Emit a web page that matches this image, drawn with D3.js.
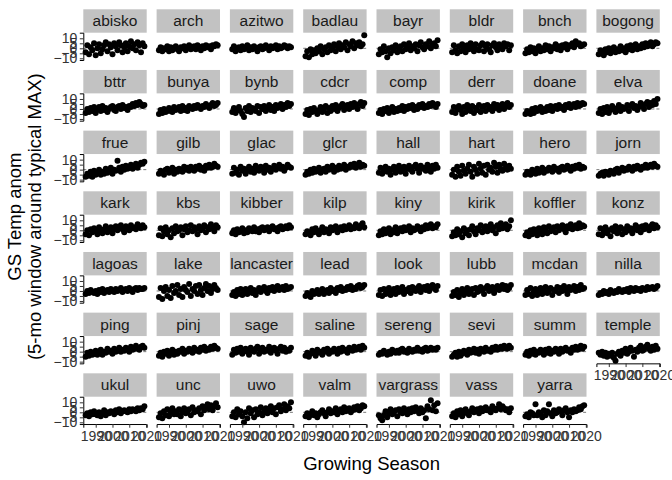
<!DOCTYPE html>
<html><head><meta charset="utf-8">
<script src="https://cdn.jsdelivr.net/npm/d3@7"></script>
<style>body{margin:0;background:#fff}svg{display:block}</style>
</head><body>
<script>
const sites = ["abisko","arch","azitwo","badlau","bayr","bldr","bnch","bogong",
"bttr","bunya","bynb","cdcr","comp","derr","doane","elva",
"frue","gilb","glac","glcr","hall","hart","hero","jorn",
"kark","kbs","kibber","kilp","kiny","kirik","koffler","konz",
"lagoas","lake","lancaster","lead","look","lubb","mcdan","nilla",
"ping","pinj","sage","saline","sereng","sevi","summ","temple",
"ukul","unc","uwo","valm","vargrass","vass","yarra"];
const years = d3.range(1984, 2020);
const xTicks = [1990, 2000, 2010, 2020];
const yTicks = [-10, -5, 0, 5, 10];
const siteValues = [
[-4,3,-6,1,-2,5,-7,0,4,-5,-1,3,6,-3,4,1,-6,5,2,-2,6,3,-4,1,5,-3,2,7,0,4,-2,6,3,-4,5,2],
[-2,1,-3,0,-1,2,-3,1,-2,0,2,-1,-3,1,0,2,-2,1,3,-1,0,2,-1,3,1,-2,2,0,3,1,2,-1,3,2,4,3],
[-1,2,-3,0,1,-2,2,-1,0,3,-2,1,-1,2,0,-3,1,2,-1,0,3,1,-2,2,0,1,3,-1,2,0,1,3,2,0,2,1],
[-8,-3,-9,-1,-6,-2,-5,0,-3,2,-6,-1,1,-4,3,-2,0,4,-3,2,5,-1,3,1,6,-2,4,2,7,0,5,3,6,2,4,13],
[-6,-1,-4,2,-3,-9,0,-5,1,-2,3,-4,0,2,-3,4,-1,1,5,-2,2,0,4,-3,3,6,1,-1,4,2,7,0,3,5,2,8],
[-4,3,-2,-5,2,-3,4,0,-4,3,-1,5,1,-3,4,-1,-2,3,5,-3,2,4,-1,-4,3,5,1,-2,4,2,-1,5,2,4,-2,3],
[-5,-1,-4,1,-3,0,-5,-1,2,-3,0,-2,3,-1,2,-3,1,0,4,-1,2,-2,3,1,4,-1,3,2,5,1,7,4,5,2,3,4],
[-6,-2,-5,-7,-1,-4,0,-5,-2,1,-4,-1,-3,2,-2,0,-4,2,-1,3,-2,1,4,-1,2,0,4,1,5,2,3,6,2,4,6,5],
[-4,0,-3,1,-2,2,-4,0,2,-2,3,-1,1,-3,0,2,3,-1,-2,2,3,0,4,1,2,-1,3,2,5,3,6,4,7,5,3,4],
[-5,-1,-4,0,-3,-2,1,-2,-3,2,-1,0,2,-2,3,-1,1,-2,3,1,0,3,1,4,2,0,3,2,5,3,1,4,6,3,4,6],
[-3,1,-4,-1,2,-2,-5,-8,1,-2,3,-3,1,0,-2,3,-4,2,0,3,-2,1,4,-1,2,-2,4,1,3,5,0,4,2,6,3,5],
[-5,-1,-6,0,-3,1,-2,-5,-1,2,-3,0,3,-4,1,-2,3,0,4,-2,1,3,5,-1,2,4,0,5,2,6,3,0,5,7,3,6],
[-4,-1,-5,0,-2,1,-4,-1,2,-3,0,-2,1,-1,3,-2,2,0,3,1,4,-1,2,0,4,2,5,1,3,2,5,3,6,4,2,5],
[-3,2,-4,0,3,-1,-5,2,-3,4,0,-2,3,-4,1,-1,4,-3,2,3,-2,4,0,2,-2,5,1,4,-1,2,5,0,3,6,2,4],
[-5,-2,-3,-5,0,-4,1,-2,-1,2,-3,0,-2,2,-1,3,-2,1,3,0,4,1,2,-1,4,2,5,1,3,5,2,6,3,4,6,5],
[-4,0,-5,1,-3,2,-4,-1,3,0,-3,1,4,-2,2,0,1,4,-2,3,5,1,3,-1,2,6,3,0,5,7,2,6,4,8,5,10],
[-7,-4,-6,-2,-7,-1,-5,-3,0,-5,-2,-4,1,-3,-1,2,-4,0,-1,9,2,-2,3,0,4,1,2,5,1,3,6,2,5,7,6,8],
[-4,-1,-3,-5,0,1,-3,-1,2,-4,0,-2,1,0,-2,3,0,2,-1,3,1,-1,3,1,4,0,2,-1,4,2,5,2,3,6,4,3],
[-4,2,-3,0,-5,3,-1,1,-4,0,3,-2,1,-3,4,0,-1,3,1,-3,4,0,2,-2,1,4,0,2,5,1,3,-1,2,5,3,2],
[-5,-2,-4,0,-3,1,-2,-1,2,-3,0,1,-2,3,0,1,4,-2,2,0,4,1,2,5,0,3,2,5,3,6,2,4,7,3,5,4],
[-3,2,-4,0,3,-2,1,-5,0,3,-3,1,4,-2,0,3,-4,1,4,0,-2,3,5,1,-3,4,1,2,-1,5,2,-2,4,1,5,2],
[-5,0,-7,3,-2,-6,4,-1,-4,1,5,-2,-7,3,0,-4,6,1,-3,4,-5,5,0,2,-2,7,3,-3,5,1,-1,6,2,0,4,1],
[-5,-2,-3,-5,0,-2,-4,1,-3,-1,2,-3,0,-1,2,0,-2,3,0,1,-2,2,3,0,1,4,1,-1,3,1,4,2,5,1,3,2],
[-6,-4,-3,-6,-2,-3,-5,-1,-2,-4,0,1,-3,0,2,-1,1,0,3,1,-1,3,1,4,2,0,3,2,5,2,3,5,3,6,4,3],
[-4,0,-5,1,-2,2,-1,-4,3,0,-3,1,4,-2,0,3,-3,1,4,0,2,5,1,-2,4,2,0,5,2,3,1,6,3,2,5,3],
[-5,2,-6,-1,3,-4,0,-7,2,-3,4,-1,0,3,-5,1,4,-2,0,5,-1,3,1,-4,4,0,2,5,-2,3,1,6,2,-1,5,3],
[-3,0,-4,1,-2,-1,2,-3,0,-2,2,0,-1,3,-1,1,-2,2,3,0,1,3,-1,2,4,1,2,-1,3,4,1,2,4,2,5,3],
[-4,-1,-3,-5,1,-2,2,-1,-4,0,3,-2,1,0,-3,3,0,1,4,-2,1,3,0,4,1,2,5,1,3,2,6,3,2,5,7,3],
[-5,-1,-4,1,-3,-1,2,-4,0,-2,3,-3,0,2,-1,3,0,1,4,-2,2,0,1,4,2,-1,3,1,5,2,3,6,2,4,3,6],
[-6,-2,-5,1,-4,-1,-7,2,-3,0,-5,1,4,-1,-4,2,0,5,-2,1,4,-1,2,6,0,3,-3,5,1,7,2,3,6,1,4,10],
[-5,-2,-6,0,-4,1,-2,-5,2,-1,-4,3,0,-3,4,-1,1,3,-2,4,0,2,5,1,-2,4,2,6,1,3,5,2,7,3,5,4],
[-4,2,-5,-1,3,-3,0,-6,2,-1,4,-3,0,3,-4,1,-2,4,0,2,-3,1,5,0,3,-2,4,1,5,2,0,4,6,2,5,3],
[-3,0,-2,1,-1,-2,0,-3,1,-1,2,-2,0,1,-1,2,0,-1,2,0,1,3,-1,1,2,0,3,1,-1,2,3,1,3,2,2,3],
[-6,3,-8,0,4,-5,1,-7,5,-2,0,6,-4,2,-6,4,1,-1,7,-5,2,0,5,-3,6,1,-4,3,7,0,5,-2,2,6,3,1],
[-4,-1,-5,1,-3,2,-4,-1,2,-3,0,3,-2,1,-4,0,3,-1,2,4,0,-2,3,1,4,0,2,5,1,3,4,1,5,2,3,4],
[-5,-2,-4,-6,0,-3,-2,1,-3,-1,2,-3,0,1,-2,3,0,1,-2,3,1,4,0,2,1,4,2,5,1,3,2,5,6,3,4,6],
[-4,1,-5,2,-3,-1,3,-4,0,2,-3,3,-1,0,4,-3,1,0,3,-2,4,1,0,3,5,-1,2,4,1,5,0,3,6,3,1,5],
[-5,-1,-4,1,-6,-2,2,-4,-1,3,-3,0,2,-4,3,-1,0,4,1,-3,3,5,0,1,4,-2,2,5,1,3,6,2,5,1,3,6],
[-4,1,-3,3,-5,-1,2,-4,0,3,-3,1,4,-2,0,3,-4,1,0,4,-2,3,0,5,1,-3,4,1,2,5,0,4,1,6,2,3],
[-4,-2,-3,0,-2,-1,-3,1,-1,-2,0,-1,2,0,-1,1,0,2,-1,3,1,0,3,1,2,0,3,2,1,4,2,3,4,2,3,5],
[-5,-1,-4,0,-3,-2,1,-3,-1,2,-3,0,-1,3,0,1,-2,3,0,1,4,0,2,1,4,2,0,5,2,3,6,3,2,5,6,4],
[-4,-1,-5,0,-2,1,-4,-1,2,-3,0,-2,1,0,3,-2,1,0,3,1,-1,4,1,2,0,4,2,5,1,3,2,5,3,6,4,3],
[-3,2,-1,3,0,4,-2,1,3,0,-3,4,1,0,3,5,-2,1,4,0,2,1,5,-1,2,4,1,-2,3,5,1,4,0,2,1,4],
[-4,-1,-5,-2,1,-1,-4,2,-1,0,-3,2,0,3,-2,1,0,3,1,-2,3,0,4,1,2,-1,4,2,1,5,2,3,5,2,6,4],
[-3,-1,-2,1,-1,-3,0,-2,2,0,-1,1,-1,2,3,0,1,-1,3,1,0,2,1,4,1,2,0,3,4,1,2,4,2,3,2,4],
[-5,-3,-1,-5,0,-4,-2,1,-1,-3,2,-1,0,3,-1,2,-2,3,1,0,4,1,2,0,4,2,5,2,3,5,3,6,4,3,6,4],
[-3,0,-4,1,-2,2,-3,0,-1,2,0,-3,2,-1,3,-2,1,0,3,1,-2,3,0,2,4,1,2,-1,4,2,5,2,3,6,3,5],
[-1,-3,0,-4,-1,-5,-2,-4,-1,-6,-9,-2,0,-4,1,-1,3,-2,0,4,1,-5,2,0,4,6,1,2,5,7,3,1,5,2,6,3],
[-3,-1,-4,0,-2,1,-2,-3,0,-4,-1,2,-3,0,-1,1,0,-2,2,0,3,-1,1,2,1,0,3,1,3,2,1,4,2,4,3,6],
[-5,-1,-6,1,-3,3,-4,0,4,-2,1,-2,3,-4,0,4,-1,1,3,-3,5,0,2,1,4,-2,6,2,5,8,3,7,2,6,9,5],
[-4,0,-5,3,-2,1,-4,-10,0,-6,4,-1,2,-5,3,-2,0,5,-3,1,4,-1,2,6,0,4,-2,5,7,1,3,8,2,6,4,10],
[-4,-1,-5,-2,1,-3,-1,-5,-2,0,2,-1,-4,0,3,-1,1,0,4,-2,1,3,0,5,1,2,4,0,2,5,3,6,2,4,7,6],
[-3,-6,-8,-3,1,-5,-1,3,-2,0,2,-4,3,0,-1,4,1,-2,3,0,4,1,5,2,-1,4,0,2,-6,6,3,12,2,7,1,9],
[-4,-1,-5,1,-2,2,-4,-1,3,0,-3,1,4,0,1,3,-1,4,1,2,5,2,3,0,6,3,2,4,8,3,6,4,2,3,0,4],
[-4,-2,-5,0,-1,-3,8,-3,0,-2,-5,2,-3,1,8,-1,-4,2,-1,0,3,1,-3,2,4,0,-5,2,0,3,1,2,5,3,6,7]
];

const W = 672, H = 480;
const nCol = 8;
const colX0 = 83.3, colPitch = 73.3, panelW = 63.4;
const rowY0 = 9.3, rowPitch = 60.67, stripH = 23.4, panelH = 27.3;
const font = "'Liberation Sans', Arial, sans-serif";

const svg = d3.select("body").append("svg").attr("width", W).attr("height", H);

const x = d3.scaleLinear().domain([1982.6, 2020.4]).range([0, panelW]);
const y = d3.scaleLinear().domain([-11.7, 15.6]).range([panelH, 0]);

sites.forEach((site, i) => {
  const r = Math.floor(i / nCol), c = i % nCol;
  const gx = colX0 + c * colPitch, gy = rowY0 + r * rowPitch;
  const g = svg.append("g").attr("transform", `translate(${gx},${gy})`);
  g.append("rect").attr("width", panelW).attr("height", stripH).attr("fill", "#c2c2c2");
  g.append("text").attr("x", panelW / 2).attr("y", stripH / 2 + 5.4)
    .attr("text-anchor", "middle").attr("font-family", font).attr("font-size", 15.5)
    .attr("fill", "#1a1a1a").text(site);
  const p = g.append("g").attr("transform", `translate(0,${stripH})`);
  p.append("line").attr("x1", 0).attr("x2", panelW).attr("y1", y(0)).attr("y2", y(0))
    .attr("stroke", "#555").attr("stroke-width", 0.8).attr("stroke-dasharray", "3,2");
  const vals = siteValues[i];
  p.selectAll("circle").data(years.map((yr, k) => [yr, vals[k]])).join("circle")
    .attr("cx", d => x(d[0])).attr("cy", d => y(d[1])).attr("r", 3).attr("fill", "#000");
  if (c === 0) {
    const ya = p.append("g").call(d3.axisLeft(y).tickValues(yTicks).tickSize(3.5).tickPadding(2.5));
    ya.select(".domain").attr("stroke", "#000").attr("stroke-width", 1);
    ya.selectAll(".tick line").attr("stroke", "#333");
    ya.selectAll("text").attr("font-family", font).attr("font-size", 14).attr("fill", "#333");
  }
  if (i + nCol >= sites.length) {
    const xa = p.append("g").attr("transform", `translate(0,${panelH})`)
      .call(d3.axisBottom(x).tickValues(xTicks).tickFormat(d3.format("d")).tickSize(3.7).tickPadding(3.5));
    xa.select(".domain").attr("stroke", "#000").attr("stroke-width", 1);
    xa.selectAll(".tick line").attr("stroke", "#333");
    xa.selectAll("text").attr("font-family", font).attr("font-size", 14).attr("fill", "#333");
  }
});

const plotLeft = colX0, plotRight = colX0 + 7 * colPitch + panelW;
const plotTop = rowY0, plotBottom = rowY0 + 6 * rowPitch + stripH + panelH;
svg.append("text").attr("x", (plotLeft + plotRight) / 2).attr("y", 470)
  .attr("text-anchor", "middle").attr("font-family", font).attr("font-size", 18.5)
  .attr("fill", "#000").text("Growing Season");
const yt = svg.append("text").attr("transform", `translate(21,${(plotTop + plotBottom) / 2}) rotate(-90)`)
  .attr("text-anchor", "middle").attr("font-family", font).attr("font-size", 18.5).attr("fill", "#000");
yt.append("tspan").attr("x", 0).attr("dy", 0).text("GS Temp anom");
yt.append("tspan").attr("x", 0).attr("dy", 20).text("(5-mo window around typical MAX)");
</script>
</body></html>
